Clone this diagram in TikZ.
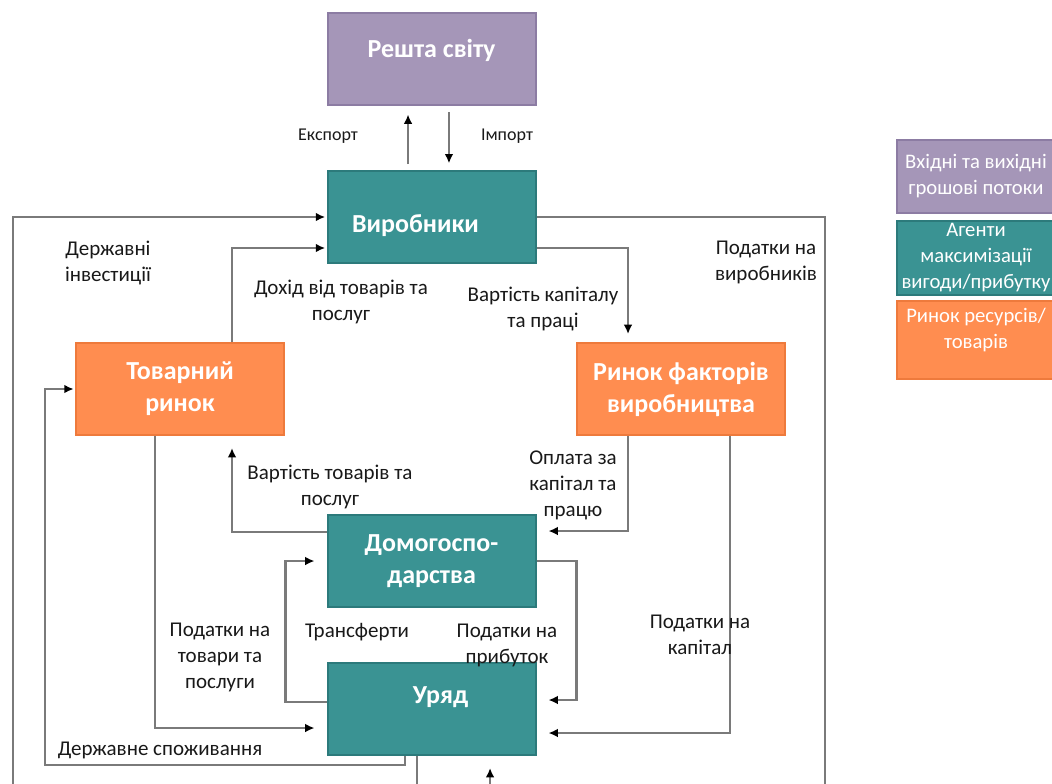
\documentclass[tikz,border=0pt]{standalone}
\usepackage{fontspec}
\setmainfont{Carlito}
\usetikzlibrary{positioning}
\usetikzlibrary{arrows.meta}

\definecolor{worldpurple}{HTML}{A596B8}
\definecolor{worldedge}{HTML}{8C7CA3}
\definecolor{agentteal}{HTML}{3A9393}
\definecolor{agentedge}{HTML}{2C7A7B}
\definecolor{marketorange}{HTML}{FF8D50}
\definecolor{marketedge}{HTML}{EE7A3C}
\definecolor{flowgray}{HTML}{7A7A7A}

\begin{document}
\begin{tikzpicture}[x=0.75pt,y=-0.75pt,
  box/.style={draw,line width=1.5pt,minimum width=156pt,minimum height=69pt,inner sep=0pt,text=white,align=center,font=\fontsize{19.5}{24}\selectfont\bfseries},
  world/.style={box,fill=worldpurple,draw=worldedge},
  agent/.style={box,fill=agentteal,draw=agentedge},
  market/.style={box,fill=marketorange,draw=marketedge},
  boxtext/.style={text=white,align=center,inner sep=0pt,font=\fontsize{19.5}{24}\selectfont\bfseries},
  lbl/.style={align=center,inner sep=0pt,text=black!90,font=\fontsize{15.75}{19.5}\selectfont},
  edgelbl/.style={lbl,font=\fontsize{13.5}{16}\selectfont},
  legbox/.style={draw,line width=1.5pt,minimum width=118.5pt,minimum height=55pt,inner sep=0pt,text=white,align=center,font=\fontsize{15.5}{19.5}\selectfont},
  legtext/.style={text=white,align=center,inner sep=0pt,font=\fontsize{15.5}{19.5}\selectfont},
  flow/.style={draw=flowgray,line width=1.7pt,-{Latex[length=7pt,width=6.5pt,color=black]},shorten >=1pt}]
 \useasboundingbox (0,0) rectangle (1052,783);
 \clip (0,0) rectangle (1052,783);
 \fill[white] (0,0) rectangle (1052,783);

 \node[world] (rest) at (431.5,58.5) {};
 \node[boxtext] (resttxt) at ([yshift=6pt]rest.center) {Решта світу};
 \node[agent] (vyr) at (431.5,217) {};
 \node[boxtext] (vyrtxt) at ([xshift=-12pt,yshift=-6.75pt]vyr.center) {Виробники};
 \node[market] (tovar) at (180,389) {Товарний\\ринок};
 \node[market] (faktor) at (681,389) {Ринок факторів\\виробництва};
 \node[agent] (dom) at (431.5,561) {Домогоспо-\\дарства};
 \node[agent] (uryad) at (431.5,709) {};
 \node[boxtext] (uryadtxt) at ([xshift=6.75pt,yshift=9pt]uryad.center) {Уряд};

 \node[legbox,fill=worldpurple,draw=worldedge] (leg1) at (976,176.5) {Вхідні та вихідні\\грошові потоки};
 \node[legbox,fill=agentteal,draw=agentedge] (leg2) at (976,258) {Агенти\\максимізації\\вигоди/прибутку};
 \node[legbox,fill=marketorange,draw=marketedge,minimum height=58.5pt] (leg3) at (976,340) {};
 \node[legtext] (leg3txt) at ([yshift=7.5pt]leg3.center) {Ринок ресурсів/\\товарів};

 \draw[flow,shorten <=4.5pt,shorten >=6.75pt] ([xshift=-17.6pt]vyr.north) -- ([xshift=-17.6pt]rest.south);
 \draw[flow,shorten <=5pt,shorten >=5pt] ([xshift=13.1pt]rest.south) -- ([xshift=13.1pt]vyr.north);
 \draw[flow] ([xshift=-10.9pt]uryad.south) |- (13,800) |- (vyr.west);
 \draw[flow,shorten >=9pt] (vyr.east) -| (825,800) -| ([xshift=43.9pt]uryad.south);
 \draw[flow] ([xshift=39pt]tovar.north) |- ([yshift=-23.25pt]vyr.west);
 \draw[flow,shorten >=6pt] ([yshift=-23.25pt]vyr.east) -| ([xshift=-39.75pt]faktor.north);
 \draw[flow,shorten >=9pt] ([xshift=-39.75pt]faktor.south) |- ([yshift=22.5pt]dom.east);
 \draw[flow,shorten >=9pt] ([xshift=36.75pt]faktor.south) |- ([yshift=-18pt]uryad.east);
 \draw[flow,shorten >=9pt] (dom.east) -- ++(40,0) |- ([yshift=6.75pt]uryad.east);
 \draw[flow,shorten >=9pt] ([yshift=21.75pt]dom.west) -| ([xshift=39pt]tovar.south);
 \draw[flow,shorten >=9pt] ([yshift=5.25pt]uryad.west) -- ++(-41,0) |- (dom.west);
 \draw[flow,shorten >=9pt] ([xshift=-18.75pt]tovar.south) |- ([yshift=-14.25pt]uryad.west);
 \draw[flow] ([xshift=-19.9pt]uryad.south) |- (45,765) |- (tovar.west);

 \node[edgelbl] (exptxt) at (328,136) {Експорт};
 \node[edgelbl] (imptxt) at (507,136) {Імпорт};
 \node[lbl] (invtxt) at (108,263) {Державні\\інвестиції};
 \node[lbl] (dohidtxt) at (341,302) {Дохід від товарів та\\послуг};
 \node[lbl] (kaptxt) at (543,309) {Вартість капіталу\\та праці};
 \node[lbl] (vyrtax) at (766,262) {Податки на\\виробників};
 \node[lbl] (goodstxt) at (330,487) {Вартість товарів та\\послуг};
 \node[lbl] (oplatatxt) at (573,485) {Оплата за\\капітал та\\працю};
 \node[lbl] (transtxt) at (357,632) {Трансферти};
 \node[lbl] (profittax) at (507,645) {Податки на\\прибуток};
 \node[lbl] (goodstax) at (220,657) {Податки на\\товари та\\послуги};
 \node[lbl] (captax) at (700,635) {Податки на\\капітал};
 \node[lbl] (consumtxt) at (160,750) {Державне споживання};
\end{tikzpicture}
\end{document}
